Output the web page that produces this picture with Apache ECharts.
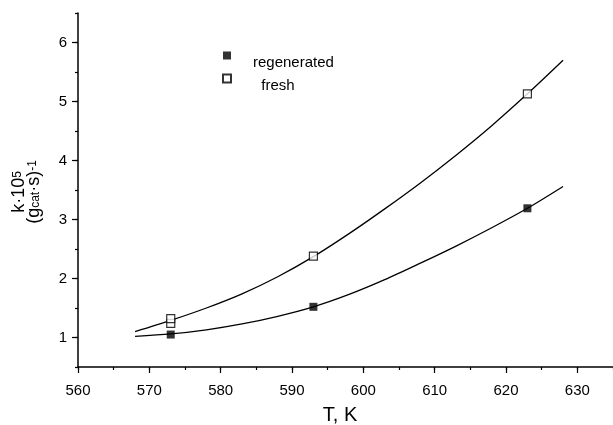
<!DOCTYPE html>
<html>
<head>
<meta charset="utf-8">
<script src="https://cdn.jsdelivr.net/npm/echarts@6/dist/echarts.min.js"></script>
<style>html,body{margin:0;padding:0;background:#fff;}#c{width:613px;height:425px;}</style>
</head>
<body>
<div id="c"></div>
<script>
// Fitted curves
var curveT = [568, 573, 578, 583, 588, 593, 598, 603, 608, 613, 618, 623, 628];
var regenCurve = [1.02, 1.06, 1.13, 1.23, 1.36, 1.52, 1.73, 1.98, 2.26, 2.55, 2.86, 3.19, 3.56];
var freshCurve = [1.10, 1.29, 1.50, 1.74, 2.03, 2.37, 2.76, 3.18, 3.62, 4.09, 4.59, 5.13, 5.70];
// Measured points
var regenT = [573, 593, 623];
var regenK = [1.05, 1.52, 3.19];
var freshT = [573, 573, 593, 623];
var freshK = [1.24, 1.32, 2.38, 5.13];
// Tick labels
var xTicks = [560, 570, 580, 590, 600, 610, 620, 630];
var yTicks = [1, 2, 3, 4, 5, 6];

function zip(a, b) { return a.map(function (v, i) { return [v, b[i]]; }); }

var FONT = '"Liberation Sans", Arial, sans-serif';
var chart = echarts.init(document.getElementById('c'), null, { renderer: 'canvas' });
var axisLine = { show: true, lineStyle: { color: '#000', width: 1.5 } };
chart.setOption({
  animation: false,
  backgroundColor: '#fff',
  grid: { left: 78, right: 0, top: 13, bottom: 58, containLabel: false },
  legend: {
    orient: 'vertical', left: 222, top: 41, padding: 0, itemWidth: 8, itemHeight: 8, itemGap: -6,
    data: ['regenerated', 'fresh'],
    formatter: function (n) { return n === 'fresh' ? '\n  fresh' : '\n' + n; },
    textStyle: { fontFamily: FONT, fontSize: 15, lineHeight: 14, color: '#000', padding: [0, 0, 0, 17] }
  },
  xAxis: [{
    type: 'value', min: 560, max: 635, interval: 5,
    axisLine: axisLine,
    axisTick: { show: true, length: 3, lineStyle: { color: '#000', width: 1.2 } },
    axisLabel: { customValues: xTicks, fontFamily: FONT, fontSize: 15, color: '#000', margin: 16 },
    splitLine: { show: false }
  }, {
    type: 'value', min: 560, max: 635, position: 'bottom',
    axisLine: { show: false },
    axisTick: { show: true, customValues: xTicks, length: 6, lineStyle: { color: '#000', width: 1.2 } },
    axisLabel: { show: false },
    splitLine: { show: false }
  }],
  yAxis: [{
    type: 'value', min: 0.5, max: 6.5, interval: 0.5,
    axisLine: axisLine,
    axisTick: { show: true, length: 3, lineStyle: { color: '#000', width: 1.2 } },
    axisLabel: { customValues: yTicks, fontFamily: FONT, fontSize: 15, color: '#000', margin: 11 },
    splitLine: { show: false }
  }, {
    type: 'value', min: 0.5, max: 6.5, position: 'left',
    axisLine: { show: false },
    axisTick: { show: true, customValues: yTicks, length: 6, lineStyle: { color: '#000', width: 1.2 } },
    axisLabel: { show: false },
    splitLine: { show: false }
  }],
  graphic: [{
    type: 'text', x: 340, y: 415, silent: true,
    style: { text: 'T, K', font: '20px ' + FONT, fill: '#000', align: 'center', verticalAlign: 'middle' }
  }, {
    type: 'text', x: 27, y: 192, rotation: Math.PI / 2, silent: true,
    style: {
      text: '{a|k·10}{s|5}\n{a|(g}{b|cat}{a|·s)}{s|-1}',
      align: 'center', verticalAlign: 'middle', fill: '#000',
      rich: {
        a: { font: '18px ' + FONT, lineHeight: 15, fill: '#000' },
        s: { font: '12px ' + FONT, lineHeight: 15, verticalAlign: 'top', fill: '#000', padding: [0, 0, 7, 0] },
        b: { font: '12px ' + FONT, lineHeight: 15, verticalAlign: 'bottom', fill: '#000', padding: [6, 0, 0, 0] }
      }
    }
  }],
  series: [{
    name: 'regenFit', type: 'line', smooth: 0.3, showSymbol: false, silent: true,
    data: zip(curveT, regenCurve), lineStyle: { color: '#000', width: 1.3 }, z: 1
  }, {
    name: 'freshFit', type: 'line', smooth: 0.3, showSymbol: false, silent: true,
    data: zip(curveT, freshCurve), lineStyle: { color: '#000', width: 1.3 }, z: 1
  }, {
    name: 'regenerated', type: 'scatter', symbol: 'rect', symbolSize: 8,
    data: zip(regenT, regenK), itemStyle: { color: '#000' }, z: 3
  }, {
    name: 'fresh', type: 'scatter', symbol: 'rect', symbolSize: 8,
    data: zip(freshT, freshK), itemStyle: { color: '#fff', borderColor: '#000', borderWidth: 1.2 }, z: 3
  }]
});
</script>
</body>
</html>
